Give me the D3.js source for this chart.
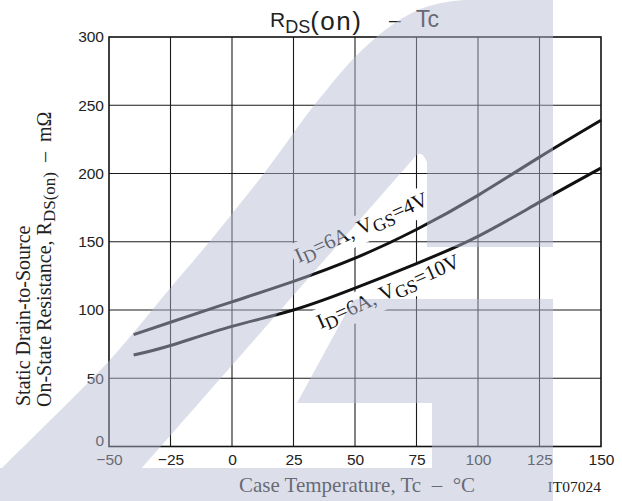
<!DOCTYPE html>
<html>
<head>
<meta charset="utf-8">
<script src="https://cdn.jsdelivr.net/npm/d3@7"></script>
<style>
	body { margin: 0; background: #fff; }
	svg { display: block; }
</style>
</head>
<body>
<script>
	// Case temperature, °C
	const temps = [-40, -25, 0, 25, 50, 75, 100, 125, 150]
	// RDS(on), mΩ
	const rdsVgs4 = [82, 91, 106, 121, 138, 159, 184, 212, 239]
	const rdsVgs10 = [67, 74, 88, 100, 116, 134, 154, 179, 204]

	const xTicks = [-50, -25, 0, 25, 50, 75, 100, 125, 150]
	const yTicks = [0, 50, 100, 150, 200, 250, 300]

	// curve captions: where the baseline starts (in data units)
	const captions = [
		{ id: "6A", vgs: "4V", t: 27, r: 134.5 },
		{ id: "6A", vgs: "10V", t: 36, r: 86 }
	]

	const W = 622, H = 501
	const svg = d3.select("body").append("svg")
		.attr("width", W)
		.attr("height", H)

	const x = d3.scaleLinear().domain([-50, 150]).range([109, 601])
	const y = d3.scaleLinear().domain([0, 300]).range([446.5, 37])

	const sans = "'Liberation Sans', Arial, sans-serif"
	const serif = "'Liberation Serif', 'Times New Roman', serif"

	// сетка
	const grid = svg.append("g")
		.attr("stroke", "#1a1a1a")
		.attr("stroke-width", 1.1)
	grid.selectAll(".vgrid")
		.data(xTicks.slice(1, -1))
		.enter().append("line")
		.attr("x1", d => x(d)).attr("x2", d => x(d))
		.attr("y1", y(0)).attr("y2", y(300))
	grid.selectAll(".hgrid")
		.data(yTicks.slice(1, -1))
		.enter().append("line")
		.attr("x1", x(-50)).attr("x2", x(150))
		.attr("y1", d => y(d)).attr("y2", d => y(d))

	const maskLayer = svg.append("g")
	const curveLayer = svg.append("g")
	const labelLayer = svg.append("g")

	// кривые
	const line = d3.line()
		.x((d, i) => x(temps[i]))
		.y(d => y(d))
		.curve(d3.curveNatural)

	curveLayer.selectAll("path")
		.data([rdsVgs4, rdsVgs10])
		.enter().append("path")
		.attr("d", line)
		.attr("fill", "none")
		.attr("stroke", "#111")
		.attr("stroke-width", 3)

	// подписи кривых, с белой подложкой поверх сетки
	captions.forEach(c => {
		const g = labelLayer.append("g")
			.attr("transform", `translate(${x(c.t)},${y(c.r)}) rotate(-24)`)
		const txt = g.append("text")
			.attr("font-family", serif)
			.attr("font-size", 21)
			.attr("fill", "#111")
		txt.append("tspan").text("I")
		txt.append("tspan").attr("font-size", 18).attr("dy", 4).text("D")
		txt.append("tspan").attr("dy", -4).text("=" + c.id + ",\u00a0V")
		txt.append("tspan").attr("font-size", 18).attr("dy", 4).text("GS")
		txt.append("tspan").attr("dy", -4).text("=" + c.vgs)
		const bb = txt.node().getBBox()
		maskLayer.append("rect")
			.attr("transform", `translate(${x(c.t)},${y(c.r)}) rotate(-24)`)
			.attr("x", bb.x - 3).attr("y", bb.y - 1)
			.attr("width", bb.width + 6).attr("height", bb.height + 2)
			.attr("fill", "#fff")
	})

	// рамка
	svg.append("rect")
		.attr("x", x(-50)).attr("y", y(300))
		.attr("width", x(150) - x(-50))
		.attr("height", y(0) - y(300))
		.attr("fill", "none")
		.attr("stroke", "#111")
		.attr("stroke-width", 1.6)

	// оси
	const xAxis = svg.append("g")
		.attr("transform", `translate(0,${y(0)})`)
		.call(d3.axisBottom(x).tickValues(xTicks).tickSize(0).tickPadding(7.5))
	const yAxis = svg.append("g")
		.attr("transform", `translate(${x(-50)},0)`)
		.call(d3.axisLeft(y).tickValues(yTicks).tickSize(0).tickPadding(5))
	;[xAxis, yAxis].forEach(a => {
		a.select(".domain").remove()
		a.selectAll("text")
			.attr("font-family", sans)
			.attr("font-size", 15.5)
			.attr("fill", "#222")
	})
	// ноль по Y чуть выше, чтобы не наезжать на −50
	yAxis.selectAll(".tick text").filter(d => d === 0).attr("dy", "-0.05em")

	// заголовок
	const title = svg.append("text")
		.attr("font-family", sans)
		.attr("fill", "#222")
	title.append("tspan").attr("x", 270).attr("y", 27).attr("font-size", 21).text("R")
	title.append("tspan").attr("y", 33).attr("font-size", 18).text("DS")
	title.append("tspan").attr("y", 30).attr("font-size", 26).attr("letter-spacing", 1.5).text("(on)")
	title.append("tspan").attr("x", 389).attr("y", 27).attr("font-size", 21).attr("letter-spacing", 0).text("\u2013")
	title.append("tspan").attr("x", 416).attr("y", 27).attr("font-size", 23).text("Tc")

	// подпись оси X
	svg.append("text")
		.attr("x", 357).attr("y", 492)
		.attr("text-anchor", "middle")
		.attr("font-family", serif)
		.attr("font-size", 21)
		.attr("fill", "#222")
		.text("Case Temperature, Tc \u00a0\u2013\u00a0 \u00b0C")

	svg.append("text")
		.attr("x", 601).attr("y", 492)
		.attr("text-anchor", "end")
		.attr("font-family", serif)
		.attr("font-size", 15.5)
		.attr("fill", "#222")
		.text("IT07024")

	// подпись оси Y, две строки
	svg.append("text")
		.attr("transform", "translate(30,406) rotate(-90)")
		.attr("font-family", serif)
		.attr("font-size", 20)
		.attr("fill", "#222")
		.text("Static Drain-to-Source")
	const yt2 = svg.append("text")
		.attr("transform", "translate(51,407) rotate(-90)")
		.attr("font-family", serif)
		.attr("font-size", 20)
		.attr("fill", "#222")
	yt2.append("tspan").text("On-State Resistance, R")
	yt2.append("tspan").attr("font-size", 17).attr("dy", 4).text("DS")
	yt2.append("tspan").attr("font-size", 17).text("(on)")
	yt2.append("tspan").attr("dy", -4).text("\u00a0\u00a0\u2013\u00a0\u00a0m\u03a9")

	// водяной знак поверх графика
	svg.append("path")
		.attr("d",
			"M0,501 L0,470 C40,430 80,392 110,360 C135,332 155,306 177,280 " +
			"C205,248 232,214 255,185 C278,156 296,128 315,104 C330,86 342,70 356,56 " +
			"C375,37 395,20 420,9 C440,2 455,0 470,0 L553,0 L553,247 L427,247 L427,162 " +
			"Q421,148 414,158 L140,470 L120,501 Z " +
			"M297,403 L352,302 Q354,299 358,299 L553,299 L553,501 L0,501 L0,468 L432,468 L432,403 Z")
		.attr("fill", "rgb(181,187,210)")
		.attr("fill-opacity", 0.47)
</script>
</body>
</html>
